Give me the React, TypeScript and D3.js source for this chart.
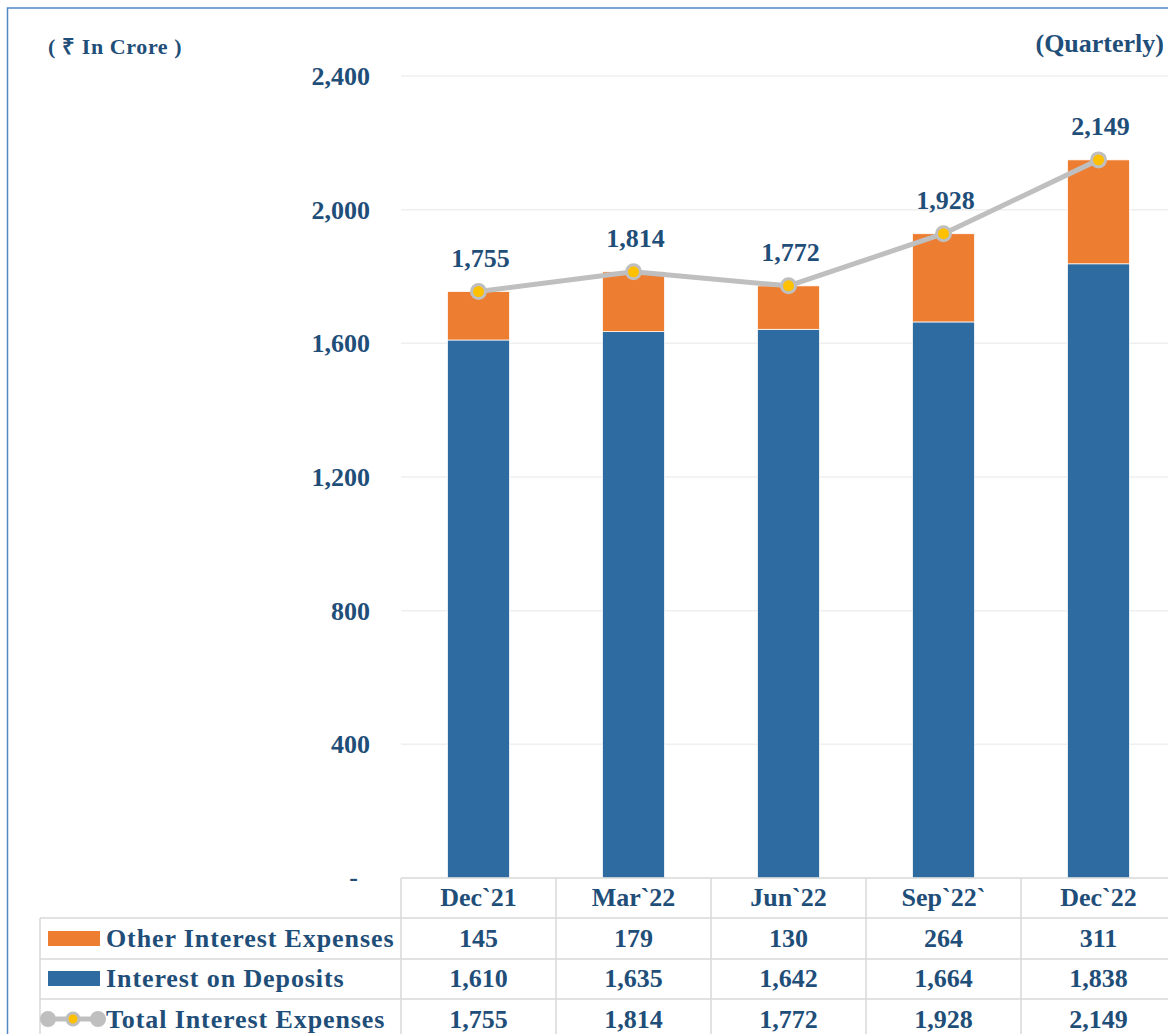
import React from "react";
import * as d3 from "d3";

const categories = ["Dec`21", "Mar`22", "Jun`22", "Sep`22`", "Dec`22"];
const otherInterest = [145, 179, 130, 264, 311];
const interestDeposits = [1610, 1635, 1642, 1664, 1838];
const totalInterest = [1755, 1814, 1772, 1928, 2149];
const yTicks = [0, 400, 800, 1200, 1600, 2000, 2400];
const seriesNames = ["Other Interest Expenses", "Interest on Deposits", "Total Interest Expenses"];

const W = 1168;
const H = 1034;
const TEXT = "#1F4E79";
const BLUE = "#2E6BA0";
const ORANGE = "#ED7D31";
const GRAY = "#BFBFBF";
const YELLOW = "#FFC000";
const GRID = "#EFEFEF";
const TABLE = "#D9D9D9";
const FONT = "'Book Antiqua', 'Palatino Linotype', 'Liberation Serif', serif";

export default function App() {
  const x = d3.scaleBand<string>().domain(categories).range([401, 1176]).paddingInner(0.6).paddingOuter(0.3);
  const y = d3.scaleLinear().domain([0, 2400]).range([878, 76]);
  const fmt = d3.format(",");
  const step = x.step();
  const cx = (c: string) => (x(c) as number) + x.bandwidth() / 2;
  const colLeft = (c: string) => cx(c) - step / 2;
  const tableLeft = colLeft(categories[0]);
  const tableRight = colLeft(categories[categories.length - 1]) + step;

  const line = d3
    .line<number>()
    .x((_, i) => cx(categories[i]))
    .y((d) => y(d));

  const rowTops = [878, 918, 959, 999, 1040];
  const rows = [otherInterest, interestDeposits, totalInterest];

  return (
    <svg
      width={W}
      height={H}
      style={{ position: "absolute", left: 0, top: 0, display: "block", background: "#fff" }}
      fontFamily={FONT}
      fontWeight="bold"
    >
      <rect x={0} y={0} width={W} height={H} fill="#fff" />
      {/* frame */}
      <rect x={7.5} y={8} width={W + 20} height={H + 20} fill="none" stroke="#5288C4" strokeWidth={1.5} />

      {/* titles */}
      <text x={48} y={54} fontSize={22} fill={TEXT} letterSpacing={0.6}>( ₹ In Crore )</text>
      <text x={1164} y={52} fontSize={26} fill={TEXT} textAnchor="end">(Quarterly)</text>

      {/* gridlines */}
      {yTicks.filter((t) => t > 0).map((t) => (
        <line key={t} x1={401} x2={1176} y1={y(t)} y2={y(t)} stroke={GRID} strokeWidth={1.5} />
      ))}

      {/* y tick labels */}
      {yTicks.map((t) =>
        t === 0 ? (
          <text key={t} x={358} y={y(t)} dy="0.3em" fontSize={26} fill={TEXT} textAnchor="end">-</text>
        ) : (
          <text key={t} x={370} y={y(t)} dy="0.35em" fontSize={26} fill={TEXT} textAnchor="end">{fmt(t)}</text>
        )
      )}

      {/* bars */}
      {categories.map((c, i) => (
        <g key={c}>
          <rect
            x={x(c)}
            y={y(interestDeposits[i])}
            width={x.bandwidth()}
            height={y(0) - y(interestDeposits[i])}
            fill={BLUE}
            stroke="#fff"
            strokeWidth={0.75}
          />
          <rect
            x={x(c)}
            y={y(interestDeposits[i] + otherInterest[i])}
            width={x.bandwidth()}
            height={y(interestDeposits[i]) - y(interestDeposits[i] + otherInterest[i])}
            fill={ORANGE}
            stroke="#fff"
            strokeWidth={0.75}
          />
        </g>
      ))}

      {/* total line */}
      <path d={line(totalInterest) || ""} fill="none" stroke={GRAY} strokeWidth={5} strokeLinejoin="round" />
      {categories.map((c, i) => (
        <g key={c}>
          <circle cx={cx(c)} cy={y(totalInterest[i])} r={7} fill={YELLOW} stroke={GRAY} strokeWidth={3} />
          <text x={cx(c) + 2} y={y(totalInterest[i]) - 25} fontSize={26} fill={TEXT} textAnchor="middle">
            {fmt(totalInterest[i])}
          </text>
        </g>
      ))}

      {/* data table */}
      <g stroke={TABLE} strokeWidth={1.5}>
        <line x1={tableLeft} x2={tableRight} y1={rowTops[0]} y2={rowTops[0]} />
        {rowTops.slice(1).map((ry) => (
          <line key={ry} x1={40} x2={tableRight} y1={ry} y2={ry} />
        ))}
        <line x1={40} x2={40} y1={rowTops[1]} y2={rowTops[4]} />
        {categories.map((c) => (
          <line key={c} x1={colLeft(c)} x2={colLeft(c)} y1={rowTops[0]} y2={rowTops[4]} />
        ))}
        <line x1={tableRight} x2={tableRight} y1={rowTops[0]} y2={rowTops[4]} />
      </g>

      {categories.map((c) => (
        <text key={c} x={cx(c)} y={(rowTops[0] + rowTops[1]) / 2 + 8} fontSize={26} fill={TEXT} textAnchor="middle">
          {c}
        </text>
      ))}
      {rows.map((vals, r) =>
        categories.map((c, i) => (
          <text
            key={c + r}
            x={cx(c)}
            y={(rowTops[r + 1] + rowTops[r + 2]) / 2 + 8}
            fontSize={26}
            fill={TEXT}
            textAnchor="middle"
          >
            {fmt(vals[i])}
          </text>
        ))
      )}

      {/* legend keys */}
      <rect x={48} y={931} width={52} height={15} fill={ORANGE} />
      <rect x={48} y={971} width={52} height={15} fill={BLUE} />
      <line x1={48} x2={98} y1={1019} y2={1019} stroke={GRAY} strokeWidth={5} />
      <circle cx={48} cy={1019} r={7} fill={GRAY} stroke={GRAY} strokeWidth={2} />
      <circle cx={98} cy={1019} r={7} fill={GRAY} stroke={GRAY} strokeWidth={2} />
      <circle cx={73} cy={1019} r={6} fill={YELLOW} stroke={GRAY} strokeWidth={3} />
      {seriesNames.map((n, r) => (
        <text
          key={n}
          x={106}
          y={(rowTops[r + 1] + rowTops[r + 2]) / 2 + 8}
          fontSize={26}
          fill={TEXT}
          letterSpacing={0.9}
        >
          {n}
        </text>
      ))}
    </svg>
  );
}
